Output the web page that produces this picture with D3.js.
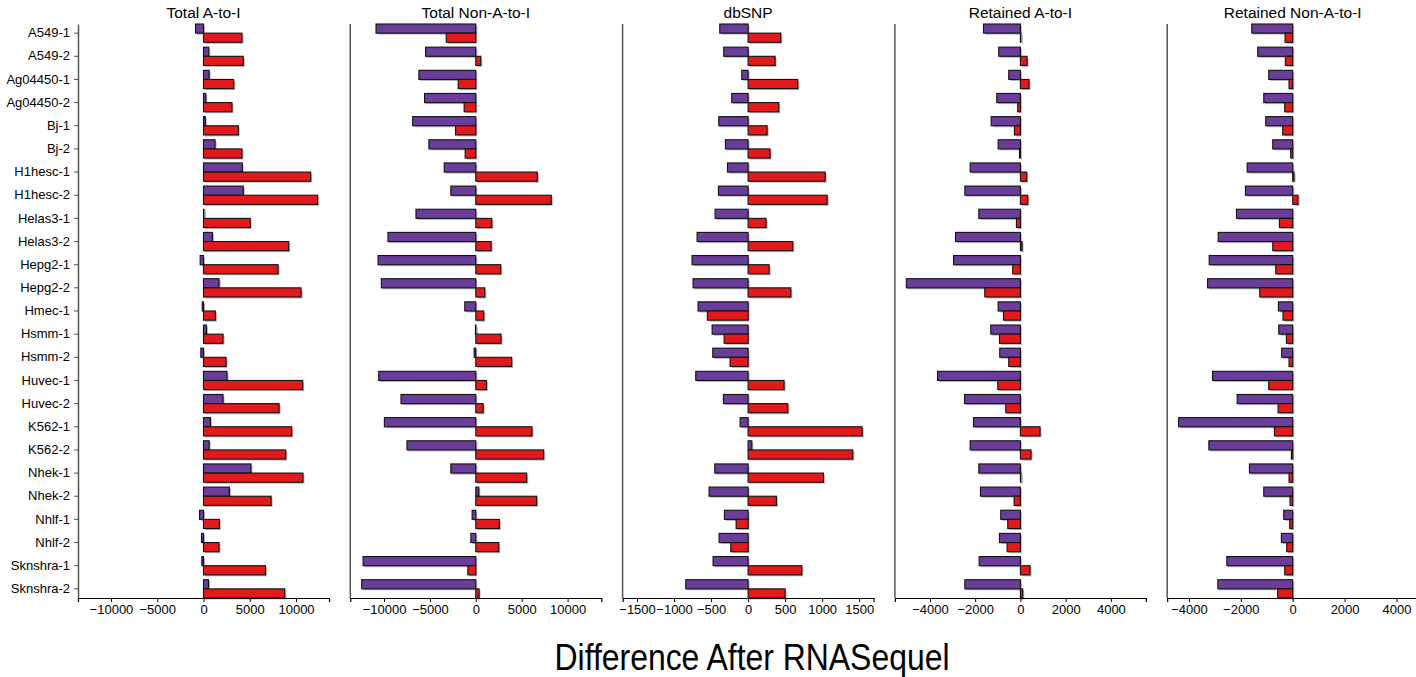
<!DOCTYPE html>
<html>
<head>
<meta charset="utf-8">
<script src="https://cdn.jsdelivr.net/npm/d3@7"></script>
<style>
  html, body { margin: 0; padding: 0; background: #fff; }
  svg { display: block; font-family: "Liberation Sans", Arial, sans-serif; }
</style>
</head>
<body>
<script>
const categories = ["A549-1","A549-2","Ag04450-1","Ag04450-2","Bj-1","Bj-2","H1hesc-1","H1hesc-2",
  "Helas3-1","Helas3-2","Hepg2-1","Hepg2-2","Hmec-1","Hsmm-1","Hsmm-2","Huvec-1","Huvec-2",
  "K562-1","K562-2","Nhek-1","Nhek-2","Nhlf-1","Nhlf-2","Sknshra-1","Sknshra-2"];

const panelTitles = ["Total A-to-I","Total Non-A-to-I","dbSNP","Retained A-to-I","Retained Non-A-to-I"];

// purple (upper) and red (lower) bars per panel
const totalAtoI_purple = [-860,570,610,250,200,1250,4190,4300,50,970,-360,1680,-140,320,-290,2540,2110,750,610,5130,2800,-430,-220,-180,540];
const totalAtoI_red    = [4160,4300,3260,3080,3760,4160,11580,12330,5050,9210,8060,10540,1290,2110,2440,10720,8170,9530,8890,10750,7310,1720,1680,6700,8780];

const totalNon_purple = [-10870,-5470,-6200,-5580,-6880,-5110,-3440,-2720,-6520,-9570,-10650,-10290,-1200,-40,-180,-10580,-8150,-9960,-7500,-2720,330,-400,-540,-12280,-12430];
const totalNon_red    = [-3220,540,-1920,-1270,-2210,-1160,6700,8220,1740,1670,2720,980,870,2750,3910,1160,800,6120,7390,5540,6630,2570,2500,-870,360];

const dbsnp_purple = [-383,-329,-86,-221,-396,-306,-279,-401,-446,-689,-757,-743,-676,-486,-477,-707,-333,-108,50,-450,-527,-320,-392,-473,-842];
const dbsnp_red    = [441,365,671,414,257,297,1041,1068,243,604,284,577,-550,-324,-243,486,536,1541,1414,1018,383,-162,-234,725,500];

const retAtoI_purple = [-1632,-956,-515,-1044,-1294,-985,-2221,-2456,-1838,-2868,-2956,-5044,-985,-1309,-912,-3662,-2471,-2074,-2221,-1838,-1765,-868,-926,-1824,-2456];
const retAtoI_red    = [15,294,382,-118,-265,-40,279,324,-176,74,-338,-1574,-750,-926,-515,-1000,-647,868,471,20,-279,-559,-588,426,103];

const retNon_purple = [-1577,-1346,-923,-1115,-1038,-769,-1756,-1821,-2167,-2872,-3218,-3282,-551,-538,-423,-3090,-2141,-4397,-3231,-1667,-1115,-346,-436,-2538,-2885];
const retNon_red    = [-295,-282,-141,-308,-385,-77,51,205,-513,-769,-654,-1269,-372,-244,-141,-923,-564,-705,-51,-141,-103,-115,-231,-308,-577];

const panelPurple = [totalAtoI_purple, totalNon_purple, dbsnp_purple, retAtoI_purple, retNon_purple];
const panelRed    = [totalAtoI_red, totalNon_red, dbsnp_red, retAtoI_red, retNon_red];

const tickSets = [
  [-10000,-5000,0,5000,10000],
  [-10000,-5000,0,5000,10000],
  [-1500,-1000,-500,0,500,1000,1500],
  [-4000,-2000,0,2000,4000],
  [-4000,-2000,0,2000,4000]
];

const xLabel = "Difference After RNASequel";

const colorPurple = "#6a3d9a";
const colorRed = "#e31a1c";

// layout
const W = 1416, H = 677;
const plotTop = 24, plotBottom = 598;
const panelLeft0 = 78, panelStep = 272.3, panelWidth = 251;

const svg = d3.select("body").append("svg").attr("width", W).attr("height", H);

const y = d3.scaleBand().domain(categories).range([plotTop, plotBottom]).paddingInner(0.21).paddingOuter(0);
const sub = d3.scaleBand().domain(["purple","red"]).range([0, y.bandwidth()]);

panelTitles.forEach((title, i) => {
  const left = panelLeft0 + i * panelStep;
  const purple = panelPurple[i], red = panelRed[i];
  const maxAbs = d3.max(purple.concat(red), v => Math.abs(v)) * 1.1;
  const x = d3.scaleLinear().domain([-maxAbs, maxAbs]).range([left, left + panelWidth]);

  const g = svg.append("g");

  // title
  g.append("text")
    .attr("x", left + panelWidth / 2).attr("y", 18)
    .attr("text-anchor", "middle")
    .attr("font-size", 15.5).attr("fill", "#000")
    .text(title);

  const rows = categories.map((c, k) => ({c, p: purple[k], r: red[k]}));
  const bars = [];
  rows.forEach(d => {
    bars.push({c: d.c, v: d.p, s: "purple"});
    bars.push({c: d.c, v: d.r, s: "red"});
  });

  // shadows
  g.append("g").selectAll("rect").data(bars).join("rect")
    .attr("x", d => Math.min(x(0), x(d.v)) + 1.5)
    .attr("y", d => y(d.c) + sub(d.s) + 1.5)
    .attr("width", d => Math.max(1, Math.abs(x(d.v) - x(0))))
    .attr("height", sub.bandwidth())
    .attr("fill", "#b5b5b5");

  // bars
  g.append("g").selectAll("rect").data(bars).join("rect")
    .attr("x", d => Math.min(x(0), x(d.v)))
    .attr("y", d => y(d.c) + sub(d.s))
    .attr("width", d => Math.max(0.5, Math.abs(x(d.v) - x(0))))
    .attr("height", sub.bandwidth())
    .attr("fill", d => d.s === "purple" ? colorPurple : colorRed)
    .attr("stroke", "#111").attr("stroke-width", 1.1);

  // x axis
  const xa = g.append("g").attr("transform", `translate(0,${plotBottom})`)
    .call(d3.axisBottom(x).tickValues(tickSets[i]).tickFormat(d3.format("d"))
      .tickSizeOuter(0).tickSize(4).tickPadding(3));
  xa.select(".domain").attr("stroke", "#000").attr("stroke-width", 1.2);
  xa.selectAll(".tick line").attr("stroke", "#000");
  xa.selectAll("text").attr("font-size", 13).attr("font-family", "Liberation Sans, Arial, sans-serif").attr("fill", "#000");

  // y axis
  if (i === 0) {
    const ya = g.append("g").attr("transform", `translate(${left},0)`)
      .call(d3.axisLeft(y).tickSize(4).tickPadding(4).tickSizeOuter(0));
    ya.select(".domain").attr("stroke", "#555").attr("stroke-width", 1.5);
    ya.selectAll(".tick line").attr("stroke", "#555");
    ya.selectAll("text").attr("font-size", 13).attr("font-family", "Liberation Sans, Arial, sans-serif").attr("fill", "#000");
  } else {
    g.append("line")
      .attr("x1", left).attr("x2", left)
      .attr("y1", plotTop).attr("y2", plotBottom)
      .attr("stroke", "#555").attr("stroke-width", 1.5);
  }
});

svg.append("text")
  .attr("x", 752).attr("y", 670)
  .attr("text-anchor", "middle")
  .attr("font-size", 36)
  .attr("textLength", 395).attr("lengthAdjust", "spacingAndGlyphs")
  .attr("fill", "#000")
  .text(xLabel);
</script>
</body>
</html>
